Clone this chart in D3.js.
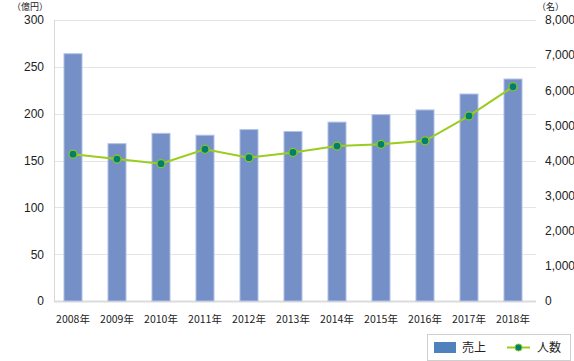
<!DOCTYPE html>
<html>
<head>
<meta charset="utf-8">
<script src="https://cdn.jsdelivr.net/npm/d3@7"></script>
<style>
  body { margin: 0; background: #fff; }
  text { font-family: "Noto Sans CJK JP", "Liberation Sans", sans-serif; fill: #222; }
</style>
</head>
<body>
<div id="chart"></div>
<script>
// chart data
const years = ["2008年", "2009年", "2010年", "2011年", "2012年", "2013年",
               "2014年", "2015年", "2016年", "2017年", "2018年"];
const sales = [264, 168, 179, 177, 183, 181, 191, 199, 204, 221, 237];   // 億円
const people = [4180, 4040, 3910, 4320, 4080, 4230, 4410, 4460, 4560, 5270, 6100]; // 名
const leftTicks = [0, 50, 100, 150, 200, 250, 300];
const rightTicks = [0, 1000, 2000, 3000, 4000, 5000, 6000, 7000, 8000];

const W = 574, H = 361;
const plot = {left: 54, right: 536, top: 20, bottom: 301};

const svg = d3.select("#chart").append("svg")
    .attr("width", W)
    .attr("height", H);

const x = d3.scaleBand()
    .domain(years)
    .range([51, 535])
    .paddingInner(0.59)
    .paddingOuter(0.295);

const yL = d3.scaleLinear().domain([0, 300]).range([plot.bottom, plot.top]);
const yR = d3.scaleLinear().domain([0, 8000]).range([plot.bottom, plot.top]);

// gridlines
svg.append("g")
  .selectAll("line")
  .data(leftTicks)
  .join("line")
    .attr("x1", plot.left)
    .attr("x2", plot.right)
    .attr("y1", d => Math.round(yL(d)) + 0.5)
    .attr("y2", d => Math.round(yL(d)) + 0.5)
    .attr("stroke", d => d === 0 ? "#dcdcdc" : "#e4e4e4")
    .attr("stroke-width", d => d === 0 ? 2 : 1);

// left vertical axis line
svg.append("line")
    .attr("x1", plot.left + 0.5).attr("x2", plot.left + 0.5)
    .attr("y1", plot.top).attr("y2", plot.bottom)
    .attr("stroke", "#d8d8d8");

// left axis labels
const leftAxis = svg.append("g")
    .attr("transform", `translate(${plot.left},0)`)
    .call(d3.axisLeft(yL).tickValues(leftTicks).tickSize(0).tickPadding(10));
leftAxis.select(".domain").remove();
leftAxis.selectAll("text")
    .style("font-family", "'Liberation Sans', sans-serif")
    .style("font-size", "12px")
    .attr("fill", "#222");

// right axis labels
const rightAxis = svg.append("g")
    .attr("transform", `translate(${plot.right},0)`)
    .call(d3.axisRight(yR).tickValues(rightTicks).tickSize(0).tickPadding(9)
      .tickFormat(d3.format(",")));
rightAxis.select(".domain").remove();
rightAxis.selectAll("text")
    .style("font-family", "'Liberation Sans', sans-serif")
    .style("font-size", "12px")
    .attr("fill", "#222");

// bars
svg.append("g")
  .selectAll("rect")
  .data(sales)
  .join("rect")
    .attr("x", (d, i) => x(years[i]))
    .attr("y", d => yL(d))
    .attr("width", x.bandwidth())
    .attr("height", d => plot.bottom - yL(d))
    .attr("fill", "#758fc7")
    .attr("stroke", "#b4c3e6")
    .attr("stroke-width", 1);

// line
const cx = (d, i) => x(years[i]) + x.bandwidth() / 2;
svg.append("path")
    .datum(people)
    .attr("fill", "none")
    .attr("stroke", "#9acd1e")
    .attr("stroke-width", 2)
    .attr("d", d3.line().x(cx).y(d => yR(d)));

svg.append("g")
  .selectAll("circle")
  .data(people)
  .join("circle")
    .attr("cx", cx)
    .attr("cy", d => yR(d))
    .attr("r", 4)
    .attr("fill", "#00806f")
    .attr("stroke", "#8cc81e")
    .attr("stroke-width", 1.2);

// x labels
svg.append("g")
  .selectAll("text")
  .data(years)
  .join("text")
    .attr("x", d => x(d) + x.bandwidth() / 2)
    .attr("y", 323)
    .attr("text-anchor", "middle")
    .style("font-size", "10.5px")
    .text(d => d);

// unit labels
svg.append("text")
    .attr("x", 12).attr("y", 10)
    .style("font-size", "9px")
    .text("（億円）");
svg.append("text")
    .attr("x", 537).attr("y", 10)
    .style("font-size", "9px")
    .text("（名）");

// legend
const legend = svg.append("g");
legend.append("rect")
    .attr("x", 427.5).attr("y", 334.5)
    .attr("width", 143).attr("height", 26)
    .attr("fill", "#fff")
    .attr("stroke", "#cfcfcf");
legend.append("rect")
    .attr("x", 434).attr("y", 342)
    .attr("width", 22).attr("height", 11)
    .attr("fill", "#4f81bd");
legend.append("text")
    .attr("x", 462).attr("y", 352)
    .style("font-size", "12px")
    .text("売上");
legend.append("line")
    .attr("x1", 507).attr("x2", 530)
    .attr("y1", 347.5).attr("y2", 347.5)
    .attr("stroke", "#9acd1e")
    .attr("stroke-width", 2);
legend.append("circle")
    .attr("cx", 518.5).attr("cy", 347.5).attr("r", 3.5)
    .attr("fill", "#00806f")
    .attr("stroke", "#8cc81e");
legend.append("text")
    .attr("x", 537).attr("y", 352)
    .style("font-size", "12px")
    .text("人数");
</script>
</body>
</html>
